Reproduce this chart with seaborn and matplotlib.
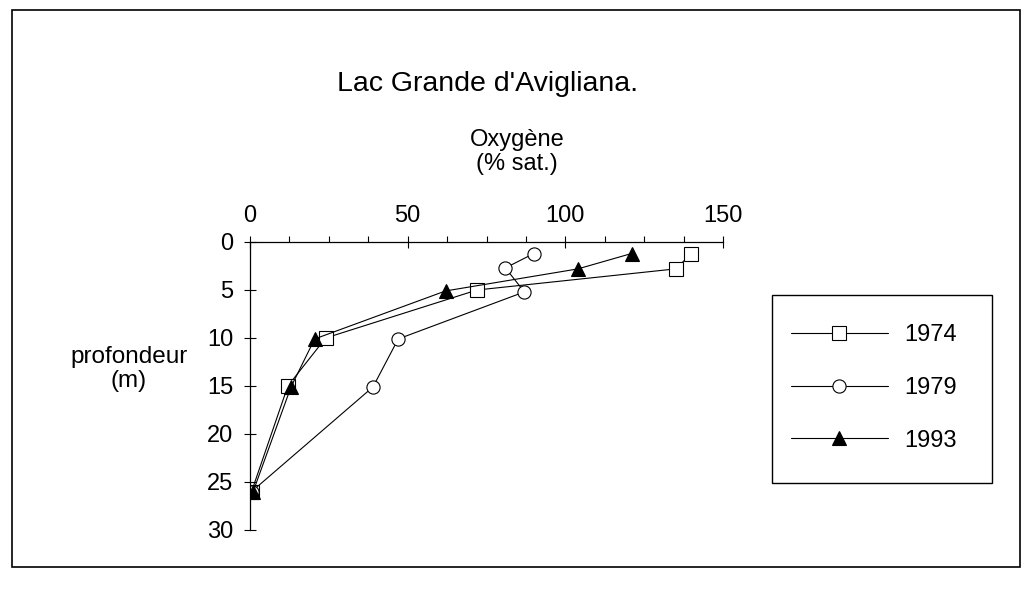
import numpy as np
import pandas as pd
import matplotlib
matplotlib.use('Agg')
import matplotlib.pyplot as plt
import matplotlib.ticker as ticker
from matplotlib.lines import Line2D
from matplotlib.patches import Rectangle
import seaborn as sns

# ==========================================
# Data
# ==========================================
years = ['1974', '1979', '1993']
depth_1974 = [1.2, 2.8, 5.0, 10.0, 15.0, 26.0]
oxy_1974 = [140, 135, 72, 24, 12, 0.5]
depth_1979 = [1.2, 2.7, 5.2, 10.1, 15.1, 26.0]
oxy_1979 = [90, 81, 87, 47, 39, 0.5]
depth_1993 = [1.2, 2.8, 5.1, 10.1, 15.1, 26.0]
oxy_1993 = [121, 104, 62, 20.5, 13, 1]

x_ticks = [0, 50, 100, 150]
y_ticks = [0, 5, 10, 15, 20, 25, 30]

sns.set_theme(style='white', rc={'axes.linewidth': 1.0, 'text.color': 'black',
                                 'xtick.color': 'black', 'ytick.color': 'black'})
plt.rcParams['font.family'] = ['Liberation Sans', 'DejaVu Sans']

fig = plt.figure(figsize=(10.26, 5.95), dpi=100)
W, H = 1026, 595
ax = fig.add_axes([250 / W, 1 - 530 / H, 473 / W, 288 / H])

styles = {
    '1974': dict(marker='s', markerfacecolor='white', markersize=10.5),
    '1979': dict(marker='o', markerfacecolor='white', markersize=9.5),
    '1993': dict(marker='^', markerfacecolor='black', markersize=9.5),
}
series = {
    '1974': (oxy_1974, depth_1974),
    '1979': (oxy_1979, depth_1979),
    '1993': (oxy_1993, depth_1993),
}

for yr in years:
    ox, dp = series[yr]
    df = pd.DataFrame({'oxygene': ox, 'profondeur': dp})
    sns.lineplot(data=df, x='oxygene', y='profondeur', sort=False, estimator=None,
                 color='black', linewidth=0.8, markeredgecolor='black',
                 markeredgewidth=0.8, ax=ax, **styles[yr])

ax.set_xlim(0, 150)
ax.set_ylim(30, 0)
ax.set_xticks(x_ticks)
ax.set_yticks(y_ticks)
ax.xaxis.set_minor_locator(ticker.MultipleLocator(12.5))
ax.xaxis.tick_top()
ax.tick_params(axis='x', which='major', direction='inout', length=8, width=0.8,
               labelsize=17, pad=7, top=True, bottom=False)
ax.tick_params(axis='x', which='minor', direction='out', length=4, width=0.8,
               top=True, bottom=False)
ax.tick_params(axis='y', which='major', direction='inout', length=8, width=0.8,
               labelsize=17, pad=8, left=True)
for s in ['bottom', 'right']:
    ax.spines[s].set_visible(False)
for s in ['top', 'left']:
    ax.spines[s].set_color('black')
    ax.spines[s].set_linewidth(0.9)
ax.set_xlabel('')
ax.set_ylabel('')
ax.grid(False)

# Titles and axis labels as free text, like the original layout
fig.text(488 / W, 1 - 84 / H, "Lac Grande d'Avigliana.", ha='center', va='center', fontsize=20.5)
fig.text(517 / W, 1 - 152 / H, 'Oxygène\n(% sat.)', ha='center', va='center',
         fontsize=17, linespacing=1.1)
fig.text(129 / W, 1 - 369 / H, 'profondeur\n(m)', ha='center', va='center',
         fontsize=17.5, linespacing=1.1)

# Legend: entries without frame, box drawn separately
handles = [Line2D([], [], color='black', linewidth=0.8, markeredgecolor='black',
                  markeredgewidth=0.8, **styles[yr]) for yr in years]
leg = fig.legend(handles, years, loc='center', bbox_to_anchor=(874 / W, 1 - 388 / H),
                 frameon=False, fontsize=17, handlelength=4.1, handletextpad=0.72,
                 labelspacing=1.3, borderpad=0, borderaxespad=0)
fig.patches.append(Rectangle((772 / W, 1 - 483 / H), 220 / W, 188 / H,
                             transform=fig.transFigure, fill=False,
                             edgecolor='black', linewidth=1.0))

# Outer frame of the scanned page
fig.patches.append(Rectangle((12 / W, 1 - 567 / H), 1008 / W, 557 / H,
                             transform=fig.transFigure, fill=False,
                             edgecolor='black', linewidth=1.2))

fig.savefig('out.png', dpi=100)
